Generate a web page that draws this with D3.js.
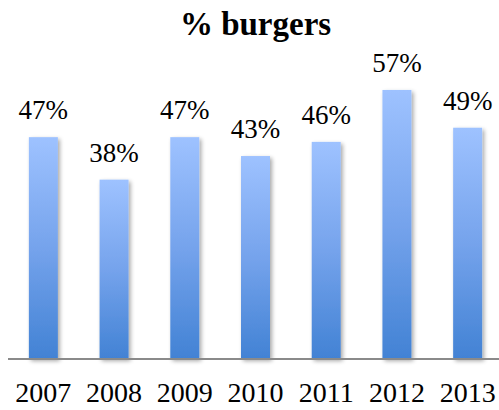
<!DOCTYPE html>
<html>
<head>
<meta charset="utf-8">
<script src="https://cdn.jsdelivr.net/npm/d3@7"></script>
<style>
  body { margin: 0; background: #fff; }
  svg { display: block; }
</style>
</head>
<body>
<div class="chart"></div>
<script>
var svgWidth = 499;
var svgHeight = 410;

// data
var years = ["2007", "2008", "2009", "2010", "2011", "2012", "2013"];
var burgerPct = [47, 38, 47, 43, 46, 57, 49];

var svg = d3.select(".chart")
  .append("svg")
  .attr("width", svgWidth)
  .attr("height", svgHeight);

var defs = svg.append("defs");

var grad = defs.append("linearGradient")
  .attr("id", "barGrad")
  .attr("x1", 0).attr("y1", 0)
  .attr("x2", 0).attr("y2", 1);
grad.append("stop").attr("offset", "0%").attr("stop-color", "#9ec2ff");
grad.append("stop").attr("offset", "50%").attr("stop-color", "#75a3ec");
grad.append("stop").attr("offset", "100%").attr("stop-color", "#4282d4");

var shadow = defs.append("filter")
  .attr("id", "barShadow")
  .attr("x", "-30%").attr("y", "-10%")
  .attr("width", "160%").attr("height", "120%");
shadow.append("feGaussianBlur")
  .attr("in", "SourceAlpha")
  .attr("stdDeviation", 2.2);
shadow.append("feOffset").attr("dx", 1.5).attr("dy", 1.5).attr("result", "blur");
shadow.append("feComponentTransfer")
  .append("feFuncA").attr("type", "linear").attr("slope", 0.35);
var merge = shadow.append("feMerge");
merge.append("feMergeNode");
merge.append("feMergeNode").attr("in", "SourceGraphic");

var baseY = 359;

var x = d3.scaleBand()
  .domain(years)
  .range([8, 503])
  .paddingInner(0.59)
  .paddingOuter(0.295);

var y = d3.scaleLinear()
  .domain([0, 60])
  .range([baseY, baseY - 4.72 * 60]);

var title = svg.append("text")
  .text("% burgers")
  .attr("x", 255.5)
  .attr("y", 35)
  .attr("text-anchor", "middle")
  .attr("font-family", "Liberation Serif, serif")
  .attr("font-weight", "bold")
  .attr("font-size", 33)
  .attr("fill", "#000");

var bars = svg.append("g")
  .selectAll("rect")
  .data(burgerPct)
  .enter()
  .append("rect")
  .attr("x", function(d, i) { return x(years[i]); })
  .attr("y", function(d) { return y(d); })
  .attr("width", x.bandwidth())
  .attr("height", function(d) { return y(0) - y(d); })
  .attr("fill", "url(#barGrad)")
  .attr("filter", "url(#barShadow)");

// baseline
svg.append("line")
  .attr("x1", 8)
  .attr("x2", svgWidth)
  .attr("y1", baseY)
  .attr("y2", baseY)
  .attr("stroke", "#8a8a8a")
  .attr("stroke-width", 2);

svg.append("g")
  .selectAll("text")
  .data(burgerPct)
  .enter()
  .append("text")
  .text(function(d) { return d + "%"; })
  .attr("x", function(d, i) { return x(years[i]) + x.bandwidth() / 2; })
  .attr("y", function(d) { return y(d) - 18; })
  .attr("text-anchor", "middle")
  .attr("font-family", "Liberation Serif, serif")
  .attr("font-size", 27)
  .attr("fill", "#000");

svg.append("g")
  .selectAll("text")
  .data(years)
  .enter()
  .append("text")
  .text(function(d) { return d; })
  .attr("x", function(d) { return x(d) + x.bandwidth() / 2; })
  .attr("y", 402)
  .attr("text-anchor", "middle")
  .attr("font-family", "Liberation Serif, serif")
  .attr("font-size", 28)
  .attr("fill", "#000");
</script>
</body>
</html>
